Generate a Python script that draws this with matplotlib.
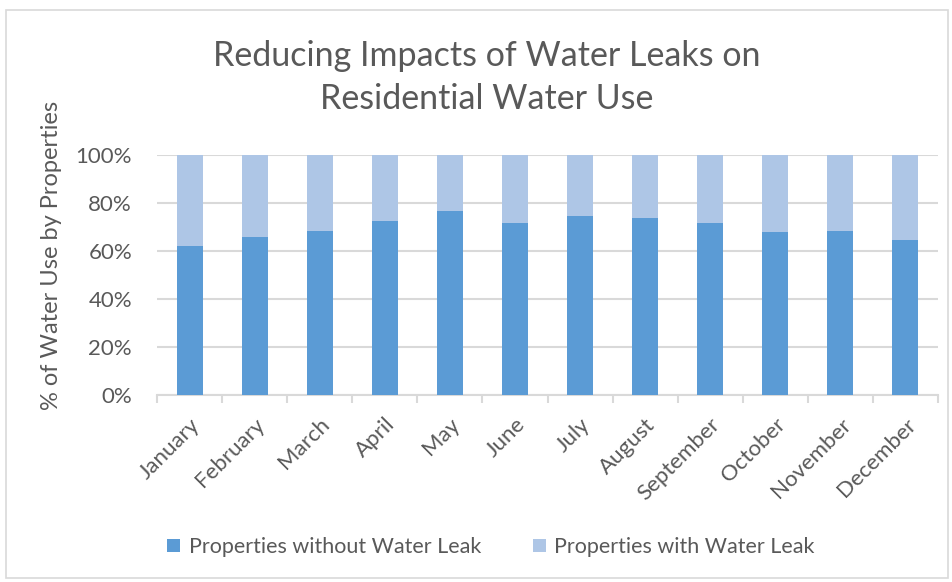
import matplotlib
matplotlib.use("Agg")
import matplotlib.pyplot as plt
from matplotlib.patches import Rectangle
import numpy as np

plt.rcParams['font.family'] = ['Lato', 'DejaVu Sans']

months = ['January', 'February', 'March', 'April', 'May', 'June',
          'July', 'August', 'September', 'October', 'November', 'December']
without_leak = [62.1, 65.8, 68.2, 72.5, 76.7, 71.7, 74.6, 73.8, 71.8, 67.8, 68.5, 64.6]
with_leak = [100 - v for v in without_leak]

dark = '#5B9BD5'
light = '#AEC6E6'
grey = '#595959'
gridc = '#D9D9D9'

fig = plt.figure(figsize=(9.52, 5.82), dpi=100)
# outer chart border
fig.patches.append(Rectangle((6/952, 4/582), 942/952, 568/582, transform=fig.transFigure,
                             fill=False, edgecolor=gridc, linewidth=1.2))

ax = fig.add_axes([157/952, 1 - 395/582, 781/952, 240/582])
x = np.arange(len(months))
ax.bar(x, without_leak, width=0.4, color=dark, label='Properties without Water Leak', zorder=3)
ax.bar(x, with_leak, width=0.4, bottom=without_leak, color=light,
       label='Properties with Water Leak', zorder=3)

ax.set_xlim(-0.5, len(months) - 0.5)
ax.set_ylim(0, 100)
ax.set_yticks(np.arange(0, 101, 20))
ax.set_yticklabels(['%d%%' % v for v in range(0, 101, 20)], color=grey, fontsize=16)
ax.yaxis.grid(True, color=gridc, linewidth=1.5, zorder=0)
ax.tick_params(axis='y', length=0, pad=18)

ax.set_xticks(x)
ax.set_xticklabels(months, rotation=45, ha='right', rotation_mode='anchor',
                   color=grey, fontsize=16)
ax.set_xticks(np.arange(-0.5, len(months)), minor=True)
ax.tick_params(axis='x', which='major', length=0, pad=14)
ax.tick_params(axis='x', which='minor', length=6, color=gridc, width=1.5)

for s in ['top', 'right', 'left']:
    ax.spines[s].set_visible(False)
ax.spines['bottom'].set_color(gridc)
ax.spines['bottom'].set_linewidth(1.5)

ax.set_ylabel('% of Water Use by Properties', color=grey, fontsize=17)
ax.yaxis.set_label_coords(-0.122, 0.58)

fig.text(487/952, 1 - 66/582, 'Reducing Impacts of Water Leaks on',
         ha='center', va='baseline', fontsize=24.5, color=grey)
fig.text(487/952, 1 - 109/582, 'Residential Water Use',
         ha='center', va='baseline', fontsize=24.5, color=grey)

fig.legend(loc='center', bbox_to_anchor=(491/952, 1 - 547/582), ncol=2, frameon=False,
           fontsize=15.5, labelcolor=grey, handlelength=0.6, handleheight=0.6,
           handletextpad=0.4, columnspacing=2.4)

fig.savefig('out.png', dpi=100)
